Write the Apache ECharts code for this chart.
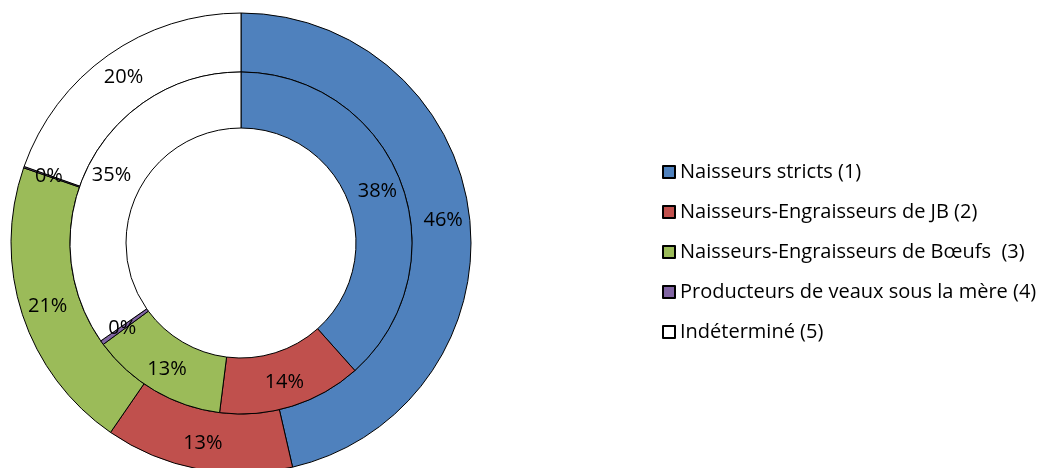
<!DOCTYPE html>
<html>
<head>
<meta charset="utf-8">
<script src="https://cdn.jsdelivr.net/npm/echarts@6/dist/echarts.min.js"></script>
<style>
  html, body { margin: 0; padding: 0; background: #fff; }
  #chart { width: 1041px; height: 468px; }
</style>
</head>
<body>
<div id="chart"></div>
<script>
// categories (legend)
const categories = [
  'Naisseurs stricts (1)',
  'Naisseurs-Engraisseurs de JB (2)',
  'Naisseurs-Engraisseurs de Bœufs  (3)',
  'Producteurs de veaux sous la mère (4)',
  'Indéterminé (5)'
];
// outer ring values (%)
const outerValues = [46.4, 13.2, 20.7, 0.1, 19.6];
// inner ring values (%)
const innerValues = [38.4, 13.6, 12.9, 0.4, 34.7];
const palette = ['#4F81BD', '#C0504D', '#9BBB59', '#8064A2', '#FFFFFF'];

const chart = echarts.init(document.getElementById('chart'));

function ring(values, radius) {
  return {
    type: 'pie',
    center: [241, 243],
    radius: radius,
    startAngle: 90,
    clockwise: true,
    avoidLabelOverlap: false,
    silent: true,
    label: {
      show: true,
      position: 'inside',
      color: '#000',
      fontSize: 20,
      fontFamily: 'Open Sans',
      formatter: p => Math.round(p.value) + '%'
    },
    labelLine: { show: false },
    itemStyle: { borderColor: '#000', borderWidth: 1 },
    emphasis: { disabled: true },
    data: categories.map((n, i) => ({ name: n, value: values[i] }))
  };
}

chart.setOption({
  animation: false,
  color: palette,
  legend: {
    orient: 'vertical',
    left: 662,
    top: 162,
    padding: 0,
    icon: 'rect',
    itemWidth: 12,
    itemHeight: 12,
    itemGap: 20,
    textStyle: { fontSize: 20, fontFamily: 'Open Sans', color: '#000' },
    data: categories
  },
  series: [
    ring(outerValues, [171, 230]),
    ring(innerValues, [115, 171])
  ]
});
</script>
</body>
</html>
